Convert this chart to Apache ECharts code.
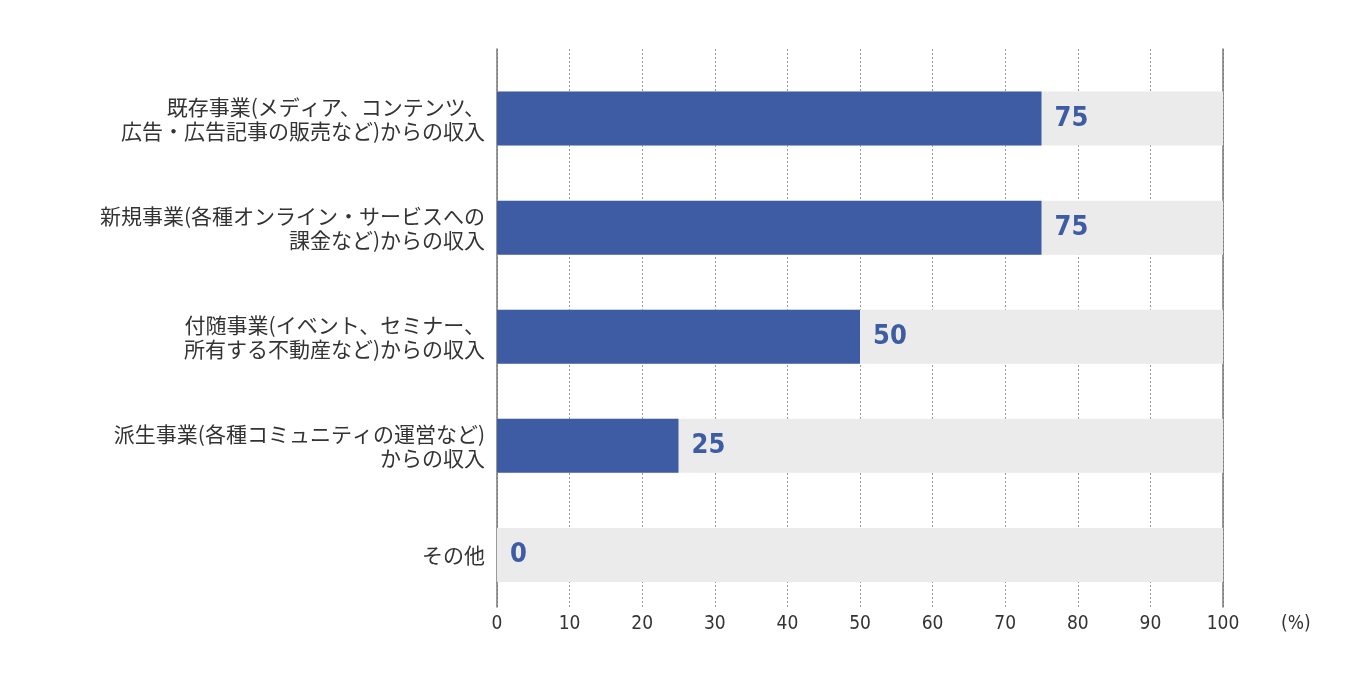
<!DOCTYPE html>
<html>
<head>
<meta charset="utf-8">
<script src="https://cdn.jsdelivr.net/npm/echarts@6/dist/echarts.min.js"></script>
<style>
  html, body { margin: 0; padding: 0; background: #fff; }
  #chart { width: 1346px; height: 685px; }
</style>
</head>
<body>
<div id="chart"></div>
<script>
// data
const categories = [
	'既存事業(メディア、コンテンツ、\n広告・広告記事の販売など)からの収入',
	'新規事業(各種オンライン・サービスへの\n課金など)からの収入',
	'付随事業(イベント、セミナー、\n所有する不動産など)からの収入',
	'派生事業(各種コミュニティの運営など)\nからの収入',
	'その他'
];
const values = [75, 75, 50, 25, 0];
const xTicks = { min: 0, max: 100, interval: 10 };
const unitLabel = '(%)';

const barColor = '#3d5ca3';
const textColor = '#333';
const narrowFont = '"Liberation Sans Narrow", "DejaVu Sans Condensed", sans-serif';
const jpFont = '"Noto Sans CJK JP", sans-serif';

const myChart = echarts.init(document.getElementById('chart'));
const option = {
	animation: false,
	grid: [
		// frame: dotted grid lines, 0/100 solid lines, tick labels
		{ left: 497, right: 123, top: 49, bottom: 78 },
		// bars
		{ left: 497, right: 123, top: 64, bottom: 75.5 }
	],
	xAxis: [
		{
			gridIndex: 0,
			type: 'value',
			min: xTicks.min,
			max: xTicks.max,
			interval: xTicks.interval,
			axisLine: { show: false },
			axisTick: { show: false },
			splitLine: { show: true, lineStyle: { color: '#999', type: [2, 2], width: 1 } },
			axisLabel: { color: textColor, fontSize: 19, fontFamily: narrowFont, margin: 8 },
			name: unitLabel,
			nameLocation: 'end',
			nameGap: 58,
			nameTextStyle: {
				color: textColor,
				fontSize: 19,
				fontFamily: narrowFont,
				verticalAlign: 'top',
				align: 'left',
				padding: [8, 0, 0, 0]
			}
		},
		{
			gridIndex: 1,
			type: 'value',
			min: xTicks.min,
			max: xTicks.max,
			show: false
		}
	],
	yAxis: [
		{
			gridIndex: 0,
			type: 'value',
			min: 0,
			max: 1,
			position: 'left',
			axisLine: { show: true, lineStyle: { color: '#777', width: 1.5 } },
			axisTick: { show: false },
			axisLabel: { show: false },
			splitLine: { show: false }
		},
		{
			gridIndex: 0,
			type: 'value',
			min: 0,
			max: 1,
			position: 'right',
			axisLine: { show: true, lineStyle: { color: '#777', width: 1.5 } },
			axisTick: { show: false },
			axisLabel: { show: false },
			splitLine: { show: false }
		},
		{
			gridIndex: 1,
			type: 'category',
			inverse: true,
			data: categories,
			axisLine: { show: false },
			axisTick: { show: false },
			splitLine: { show: false },
			axisLabel: {
				color: textColor,
				fontSize: 21,
				lineHeight: 24,
				fontFamily: jpFont,
				margin: 12,
				align: 'right'
			}
		}
	],
	series: [
		{
			type: 'bar',
			xAxisIndex: 1,
			yAxisIndex: 2,
			data: values,
			barWidth: 54,
			itemStyle: { color: barColor },
			showBackground: true,
			backgroundStyle: { color: '#ebebeb' },
			label: {
				show: true,
				position: 'right',
				distance: 13,
				color: barColor,
				fontSize: 27,
				fontWeight: 'bold',
				fontFamily: narrowFont
			}
		}
	]
};
myChart.setOption(option, true);
</script>
</body>
</html>
